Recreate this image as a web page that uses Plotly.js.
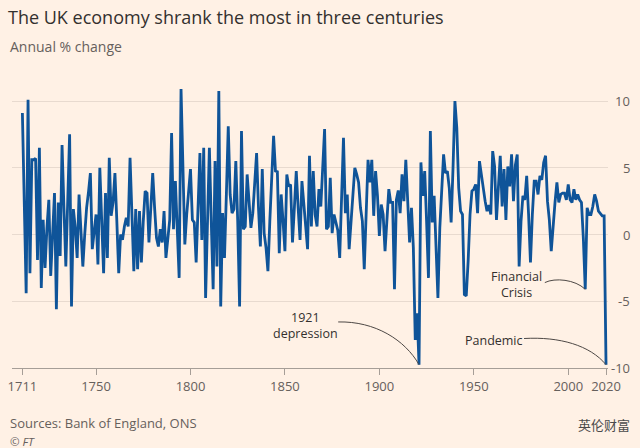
<!DOCTYPE html>
<html>
<head>
<meta charset="utf-8">
<script src="https://cdn.plot.ly/plotly-3.0.1.min.js"></script>
<style>
  html, body { margin: 0; padding: 0; background: #fff1e5; }
  #chart { width: 640px; height: 448px; }
</style>
</head>
<body>
<div id="chart"></div>
<script>
// Annual % change in UK GDP
const startYear = 1711;
const growth1711_1760 = [
  9.1, 2.5, -4.4, 10.1, -2.9, 5.6, 5.6, 5.7, -1.9, 6.5,
  -4.0, 1.1, -2.5, 0.5, 2.6, -3.1, 0.3, 3.1, -5.6, 2.4,
  -1.6, 6.7, 2.0, -2.4, 2.5, 7.5, -5.4, 1.9, 0.5, -1.75,
  3.0, 0.5, -2.4, 0.0, 2.0, 3.2, 4.6, -1.1, 0.5, 1.5,
  -2.25, 5.0, 1.0, -2.9, 3.1, -1.75, 5.75, 1.4, 2.4, 4.6
];
const growth1761_1810 = [
  1.0, -2.9, 0.0, -0.4, 0.6, 1.25, 0.6, 5.75, 1.5, -2.75,
  1.9, -2.6, 1.75, -2.1, 1.0, 3.25, 3.1, -0.6, 2.0, 4.6,
  2.0, -0.25, -0.9, 0.4, -0.6, 1.75, -1.75, 0.0, 1.1, 7.6,
  0.4, 4.0, 0.5, -3.25, 10.9, 5.0, -0.75, 1.5, 3.2, 4.9,
  1.1, 0.9, -2.1, 2.0, 6.1, -0.4, 6.5, -4.75, 1.0, 6.5
];
const growth1811_1860 = [
  1.0, -4.1, 5.5, -2.4, 10.75, -5.4, 1.6, -1.75, 3.0, 8.1,
  3.0, 1.6, 1.9, 5.5, 1.0, -5.4, 7.75, 0.4, 0.6, 4.5,
  2.5, 0.5, 1.6, 3.5, 6.1, 2.0, -0.9, 4.9, 0.1, -1.0,
  -2.75, 1.0, 5.0, 7.4, 4.75, 4.7, -1.4, 3.0, 1.0, -1.25,
  4.5, 3.6, 3.75, -0.6, 2.0, 4.75, 2.0, -0.4, 4.0, 2.5
];
const growth1861_1910 = [
  0.5, -1.1, 5.9, 0.6, 4.75, 1.5, 0.6, 3.4, 2.1, 5.0,
  7.9, 0.4, 0.6, 4.25, 0.1, 1.5, 0.9, 0.3, -1.75, 3.0,
  7.25, 1.6, 3.0, -1.1, 1.0, 2.9, 5.0, 4.5, 3.9, 2.0,
  1.0, -2.6, 1.5, 5.6, 3.9, 5.6, 1.4, 4.75, 2.9, -0.1,
  2.25, 1.5, -1.25, 1.0, 3.4, 2.4, 2.4, -4.1, 2.6, 3.3
];
const growth1911_1960 = [
  1.6, 4.5, 2.5, 5.6, 2.5, -0.6, 2.0, -1.0, -7.9, -5.9,
  -9.75, 5.4, 2.9, 4.75, 1.0, -3.25, 7.75, 0.9, 2.9, -0.5,
  -4.75, 0.5, 3.0, 6.0, 4.6, 4.75, 3.5, 0.9, 5.0, 10.0,
  8.0, 3.5, 1.75, 1.5, -4.5, -4.6, -2.0, 1.5, 3.25, 3.4,
  3.75, 1.6, 5.5, 4.4, 3.5, 2.5, 1.75, 2.2, 1.5, 6.25
];
const growth1961_2020 = [
  5.1, 1.1, 3.5, 5.9, 2.1, 4.9, 1.1, 5.1, 3.6, 6.0,
  2.5, 5.2, 6.0, -2.4, 1.0, 2.9, 2.6, 4.4, 1.5, -2.1,
  1.5, 4.0, 4.0, 3.0, 4.4, 4.1, 5.4, 5.9, 2.5, 1.1,
  -1.25, 0.8, 2.4, 3.9, 2.4, 3.0, 3.1, 3.1, 2.6, 3.75,
  2.6, 2.4, 3.4, 2.6, 3.0, 2.6, 2.4, -0.3, -4.1, 2.0,
  1.5, 1.5, 2.1, 3.0, 2.5, 1.75, 1.6, 1.4, 1.4, -9.75
];

const xTickVals = [1711, 1750, 1800, 1850, 1900, 1950, 2000, 2020];
const xTickText = ['1711', '1750', '1800', '1850', '1900', '1950', '2000', '2020'];
const yTickVals = [10, 5, 0, -5, -10];
const yTickText = ['10', '5', '0', '-5', '-10'];

const eventYears = [1921, 2009, 2020];
const eventLabels = ['1921<br>depression', 'Financial<br>Crisis', 'Pandemic'];

const growth = [].concat(growth1711_1760, growth1761_1810, growth1811_1860,
                         growth1861_1910, growth1911_1960, growth1961_2020);
const years = growth.map((_, i) => startYear + i);
const valueAt = yr => growth[yr - startYear];

const FONT = 'Open Sans, Noto Sans, sans-serif';
const TEXT_DARK = '#33302e';
const TEXT_GREY = '#66605c';

const trace = {
  type: 'scatter', mode: 'lines',
  x: years, y: growth,
  line: { color: '#0f5499', width: 2.8 },
  hoverinfo: 'skip'
};

const annotations = [];
// y tick labels, right-aligned at the right edge
yTickVals.forEach((v, i) => annotations.push({
  xref: 'paper', yref: 'y', x: 1.04, y: v, xanchor: 'right', yanchor: 'middle',
  text: yTickText[i], showarrow: false, font: { family: FONT, size: 13, color: TEXT_GREY }
}));
// subtitle
annotations.push({ xref: 'paper', yref: 'paper', x: -0.0067, y: 1.1378, xanchor: 'left', yanchor: 'middle',
  text: 'Annual % change', showarrow: false, font: { family: FONT, size: 14, color: TEXT_GREY } });
// sources & credits
annotations.push({ xref: 'paper', yref: 'paper', x: -0.0067, y: (368 - 423) / 283, xanchor: 'left', yanchor: 'middle',
  text: 'Sources: Bank of England, ONS', showarrow: false, font: { family: FONT, size: 13, color: TEXT_GREY } });
annotations.push({ xref: 'paper', yref: 'paper', x: -0.0067, y: (368 - 441) / 283, xanchor: 'left', yanchor: 'middle',
  text: '<i>© FT</i>', showarrow: false, font: { family: FONT, size: 11.5, color: TEXT_GREY } });
annotations.push({ xref: 'paper', yref: 'paper', x: 1.04, y: (368 - 424) / 283, xanchor: 'right', yanchor: 'middle',
  text: '英伦财富', showarrow: false, font: { family: 'Noto Sans CJK SC, sans-serif', size: 13, color: '#4a4a4a' } });
// event labels
const labelPos = [[1860.7, -6.78], [1972.8, -3.78], [1960.6, -7.94]];
eventLabels.forEach((t, i) => annotations.push({
  xref: 'x', yref: 'y', x: labelPos[i][0], y: labelPos[i][1], xanchor: 'center', yanchor: 'middle',
  text: t, showarrow: false, font: { family: FONT, size: 12.5, color: TEXT_DARK }
}));

// curved connectors from labels to the troughs
const curveStarts = [[1878.2, -6.55, 1897.7, -6.48, 1913.6, -7.9],
                     [1987.6, -3.6, 1993.0, -3.22, 2003.6, -3.37],
                     [1976.6, -7.79, 1995.7, -7.64, 2011.5, -8.31]];
const shapes = eventYears.map((yr, i) => {
  const c = curveStarts[i];
  return {
    type: 'path', xref: 'x', yref: 'y',
    path: `M ${c[0]},${c[1]} C ${c[2]},${c[3]} ${c[4]},${c[5]} ${yr},${valueAt(yr)}`,
    line: { color: '#4d4845', width: 1 }
  };
});

const layout = {
  width: 640, height: 448,
  paper_bgcolor: '#fff1e5', plot_bgcolor: '#fff1e5',
  margin: { l: 12, r: 32, t: 85, b: 80 },
  showlegend: false,
  title: {
    text: 'The UK economy shrank the most in three centuries',
    font: { family: FONT, size: 18, color: TEXT_DARK },
    xref: 'container', yref: 'container', x: 8 / 640, xanchor: 'left',
    y: 1 - 18 / 448, yanchor: 'middle'
  },
  xaxis: {
    range: [1705.5, 2021.05], tickvals: xTickVals, ticktext: xTickText,
    showgrid: false, zeroline: false,
    showline: true, linecolor: '#a69e97', linewidth: 1,
    ticks: 'outside', ticklen: 6, tickcolor: '#a69e97',
    tickfont: { family: FONT, size: 13, color: TEXT_GREY }
  },
  yaxis: {
    range: [-10, 11.2], tickvals: yTickVals, showticklabels: false,
    showgrid: true, gridcolor: '#e8dacf', gridwidth: 1, zeroline: false,
    side: 'right'
  },
  annotations: annotations,
  shapes: shapes
};

Plotly.newPlot('chart', [trace], layout, { displayModeBar: false, staticPlot: true });
</script>
</body>
</html>
